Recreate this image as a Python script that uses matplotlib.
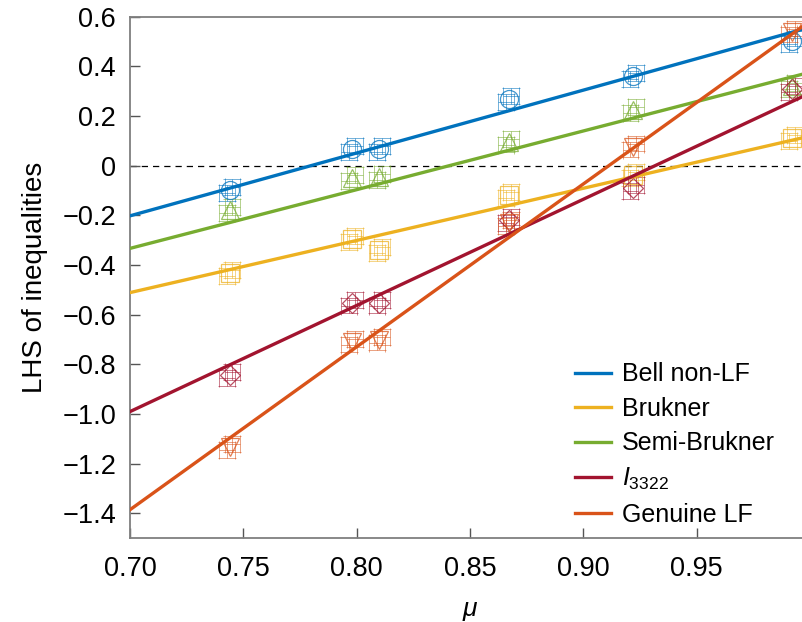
import matplotlib
matplotlib.use("Agg")
import matplotlib.pyplot as plt
import numpy as np

plt.rcParams.update({
    'font.family': ['Liberation Sans', 'DejaVu Sans'],
    'mathtext.fontset': 'custom',
    'mathtext.it': 'Liberation Sans:italic',
    'mathtext.rm': 'Liberation Sans',
})

# ====================
# data
# ====================
mu = [0.744, 0.798, 0.810, 0.867, 0.922, 0.992]

bell_non_lf = [-0.098, 0.067, 0.067, 0.268, 0.361, 0.500]
brukner = [-0.433, -0.295, -0.339, -0.118, -0.037, 0.110]
semi_brukner = [-0.178, -0.051, -0.047, 0.097, 0.224, 0.320]
i3322 = [-0.842, -0.551, -0.551, -0.220, -0.091, 0.310]
genuine_lf = [-1.131, -0.708, -0.700, -0.230, 0.077, 0.540]

# straight lines: value at mu = 0.70 and at mu = 1.00
line_mu = [0.70, 1.00]
bell_line = [-0.202, 0.557]
brukner_line = [-0.511, 0.119]
semi_line = [-0.333, 0.376]
i3322_line = [-0.990, 0.292]
genuine_line = [-1.385, 0.582]

labels = ["Bell non-LF", "Brukner", "Semi-Brukner", r"$I_{3322}$", "Genuine LF"]
colors = ["#0072BD", "#EDB120", "#77AC30", "#A2142F", "#D95319"]
markers = ["o", "s", "^", "D", "v"]

x_ticks = [0.70, 0.75, 0.80, 0.85, 0.90, 0.95]
y_ticks = [-1.4, -1.2, -1.0, -0.8, -0.6, -0.4, -0.2, 0, 0.2, 0.4, 0.6]

series = [bell_non_lf, brukner, semi_brukner, i3322, genuine_lf]
lines = [bell_line, brukner_line, semi_line, i3322_line, genuine_line]

# ====================
# figure
# ====================
fig = plt.figure(figsize=(8.02, 6.22), dpi=100)
ax = fig.add_axes([130 / 802, 83.7 / 622, 680 / 802, 521.7 / 622])

ax.axhline(0, color="black", lw=0.9, ls=(0, (5, 4)), zorder=1)

handles = []
for vals, ln, lab, col, mk in zip(series, lines, labels, colors, markers):
    # measured points: open marker + error bars (drawn twice, slightly shifted)
    for dx, dy in [(-0.0012, -0.012), (0.0012, 0.012)]:
        ax.errorbar(np.array(mu) + dx, np.array(vals) + dy,
                    xerr=0.0035, yerr=0.032, fmt="none",
                    ecolor=col, elinewidth=0.7, capsize=6.5, capthick=0.7,
                    alpha=0.55, zorder=2)
    ax.plot(mu, vals, ls="none", marker=mk, ms=13 if mk != "D" else 10,
            mfc="none", mec=col, mew=0.9, alpha=0.75, zorder=3)
    h, = ax.plot(line_mu, ln, color=col, lw=2.4, zorder=4, label=lab)
    handles.append(h)

ax.set_xlim(0.70, 1.00)
ax.set_ylim(-1.5, 0.6)
ax.set_xticks(x_ticks)
ax.set_xticklabels([f"{t:.2f}" for t in x_ticks])
ax.set_yticks(y_ticks)
ax.set_yticklabels(["0" if abs(t) < 1e-9 else f"{t:.1f}".replace("-", "\u2212")
                    for t in y_ticks])
ax.tick_params(direction="in", length=7, width=1.0, color="#555555",
               labelsize=19.5)
ax.tick_params(axis="x", pad=13)
ax.tick_params(axis="y", pad=10)
for side in ["left", "bottom", "top", "right"]:
    ax.spines[side].set_color("#7f7f7f")
    ax.spines[side].set_linewidth(1.3)

ax.set_ylabel("LHS of inequalities", fontsize=20, labelpad=10)
ax.set_xlabel(r"$\mu$", fontsize=19, labelpad=12)

fig.legend(handles=handles, labels=labels, loc="lower left",
           bbox_to_anchor=(562 / 802, 83 / 622), frameon=False,
           fontsize=18, handlelength=1.45, handletextpad=0.45,
           labelspacing=0.42, borderpad=0)

fig.savefig("out.png", dpi=100, facecolor="white")
